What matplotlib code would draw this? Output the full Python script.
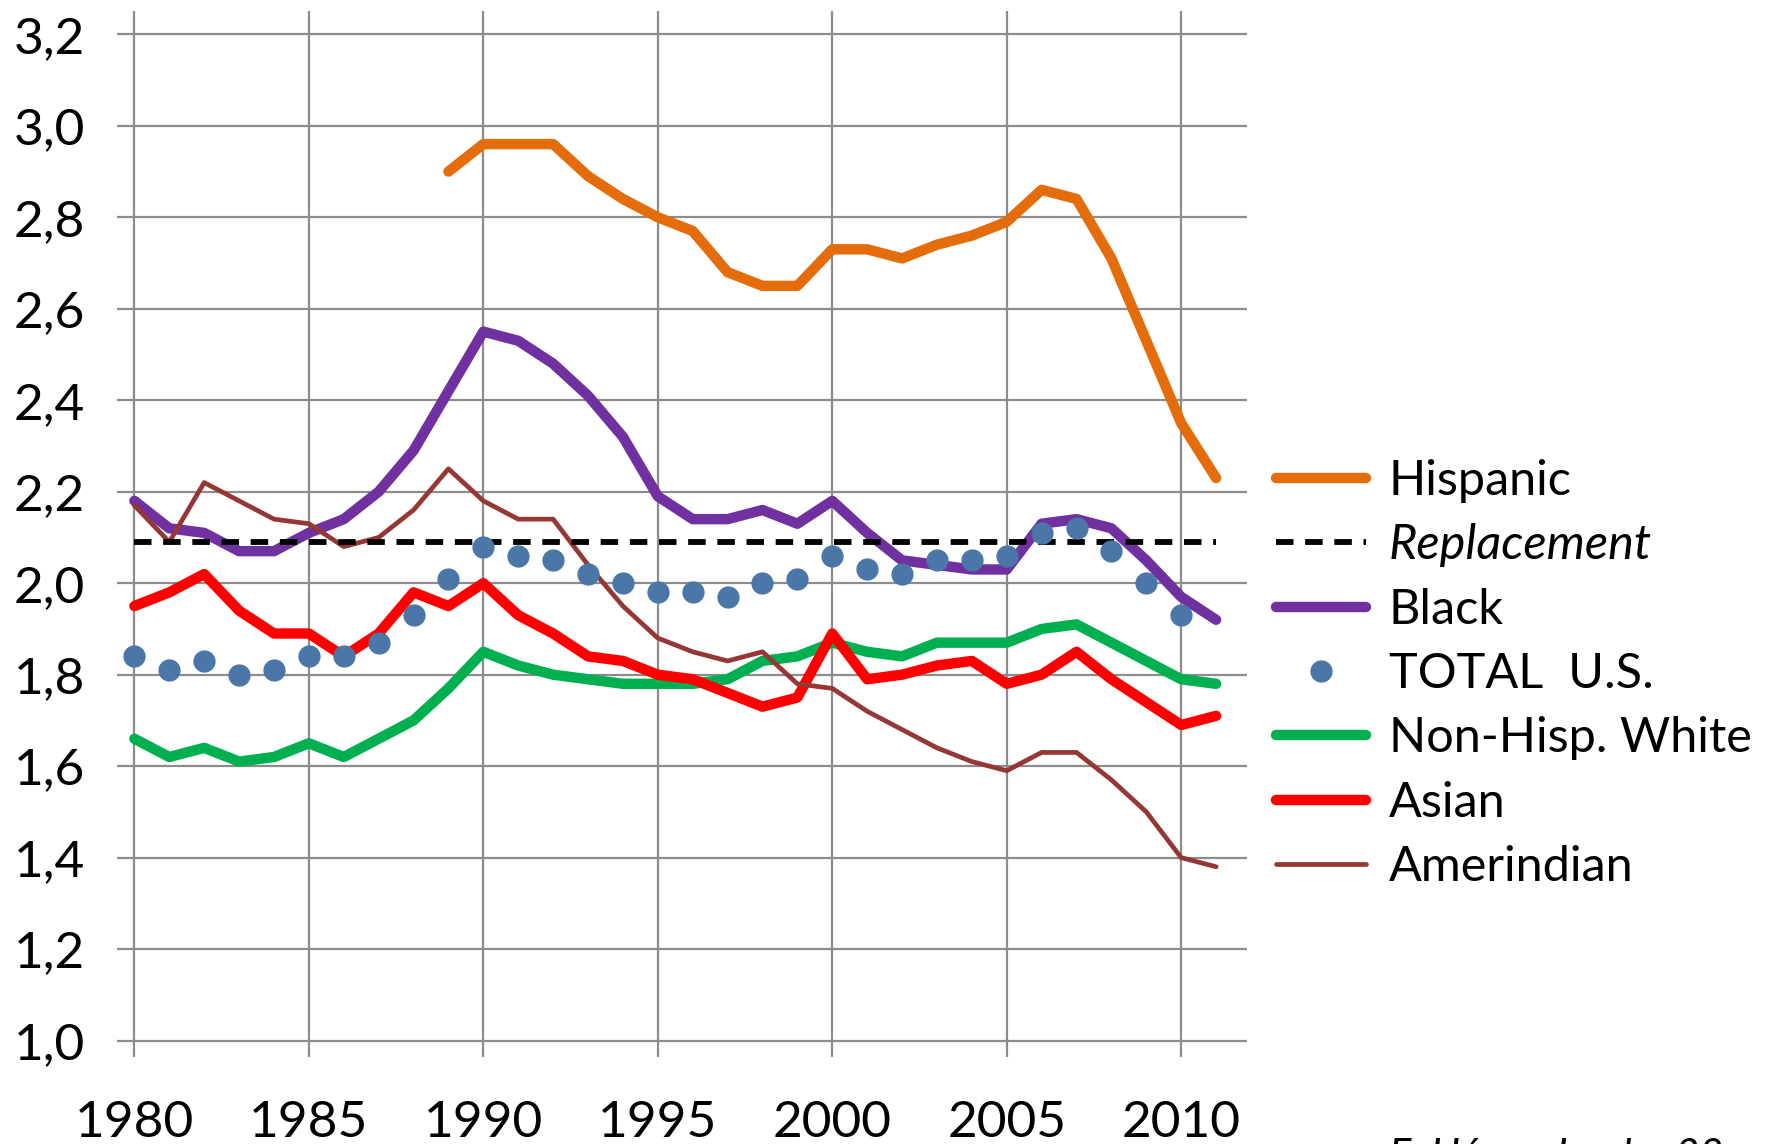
import numpy as np
import matplotlib
matplotlib.use("Agg")
import matplotlib.pyplot as plt

plt.rcParams['font.family'] = ['Lato', 'DejaVu Sans']

years = np.arange(1980, 2012)
hisp_years = np.arange(1989, 2012)
total_years = np.arange(1980, 2011)

hispanic = [2.90, 2.96, 2.96, 2.96, 2.89, 2.84, 2.80, 2.77, 2.68, 2.65, 2.65, 2.73,
            2.73, 2.71, 2.74, 2.76, 2.79, 2.86, 2.84, 2.71, 2.53, 2.35, 2.23]
black = [2.18, 2.12, 2.11, 2.07, 2.07, 2.11, 2.14, 2.20, 2.29, 2.42, 2.55, 2.53,
         2.48, 2.41, 2.32, 2.19, 2.14, 2.14, 2.16, 2.13, 2.18, 2.11, 2.05, 2.04,
         2.03, 2.03, 2.13, 2.14, 2.12, 2.05, 1.97, 1.92]
total_us = [1.84, 1.81, 1.83, 1.80, 1.81, 1.84, 1.84, 1.87, 1.93, 2.01, 2.08, 2.06,
            2.05, 2.02, 2.00, 1.98, 1.98, 1.97, 2.00, 2.01, 2.06, 2.03, 2.02, 2.05,
            2.05, 2.06, 2.11, 2.12, 2.07, 2.00, 1.93]
white = [1.66, 1.62, 1.64, 1.61, 1.62, 1.65, 1.62, 1.66, 1.70, 1.77, 1.85, 1.82,
         1.80, 1.79, 1.78, 1.78, 1.78, 1.79, 1.83, 1.84, 1.87, 1.85, 1.84, 1.87,
         1.87, 1.87, 1.90, 1.91, 1.87, 1.83, 1.79, 1.78]
asian = [1.95, 1.98, 2.02, 1.94, 1.89, 1.89, 1.84, 1.89, 1.98, 1.95, 2.00, 1.93,
         1.89, 1.84, 1.83, 1.80, 1.79, 1.76, 1.73, 1.75, 1.89, 1.79, 1.80, 1.82,
         1.83, 1.78, 1.80, 1.85, 1.79, 1.74, 1.69, 1.71]
amerindian = [2.17, 2.09, 2.22, 2.18, 2.14, 2.13, 2.08, 2.10, 2.16, 2.25, 2.18, 2.14,
              2.14, 2.04, 1.95, 1.88, 1.85, 1.83, 1.85, 1.78, 1.77, 1.72, 1.68, 1.64,
              1.61, 1.59, 1.63, 1.63, 1.57, 1.50, 1.40, 1.38]
replacement = 2.09

fig = plt.figure(figsize=(17.72, 11.44), dpi=100)
ax = fig.add_axes([0.066, 0.076, 0.638, 0.914])

grid_col = '#8c8c8c'
for yv in np.arange(1.0, 3.21, 0.2):
    ax.axhline(yv, color=grid_col, lw=1.6, zorder=0)
for xv in range(1980, 2011, 5):
    ax.axvline(xv, color=grid_col, lw=1.6, zorder=0)

thick = 7.5
ax.plot(hisp_years, hispanic, color='#E46C0A', lw=thick, solid_capstyle='round', label='Hispanic', zorder=3)
ax.plot([1980, 2011], [replacement, replacement], color='black', lw=4.2, ls=(0, (3, 2)), label='Replacement', zorder=4)
ax.plot(years, black, color='#7030A0', lw=thick, solid_capstyle='round', label='Black', zorder=3)
ax.plot(total_years, total_us, ls='none', marker='o', ms=15, color='#4A76A8', label='TOTAL  U.S.', zorder=5)
ax.plot(years, white, color='#00B050', lw=thick, solid_capstyle='round', label='Non-Hisp. White', zorder=3)
ax.plot(years, asian, color='#FF0000', lw=thick, solid_capstyle='round', label='Asian', zorder=3)
ax.plot(years, amerindian, color='#953735', lw=3.4, solid_capstyle='round', label='Amerindian', zorder=3)

ax.set_xlim(1979.5, 2011.9)
ax.set_ylim(0.964, 3.25)
ax.set_xticks(range(1980, 2011, 5))
ax.set_yticks(np.arange(1.0, 3.21, 0.2))
ax.set_yticklabels([f"{v:.1f}".replace('.', ',') for v in np.arange(1.0, 3.21, 0.2)])
ax.tick_params(axis='both', length=0, labelsize=37)
ax.tick_params(axis='y', pad=23)
ax.tick_params(axis='x', pad=31)
for s in ax.spines.values():
    s.set_visible(False)

leg = ax.legend(loc='upper left', bbox_to_anchor=(0.709, 0.616), bbox_transform=fig.transFigure,
                frameon=False, fontsize=35, handlelength=1.85, handletextpad=0.47,
                labelspacing=0.42, borderaxespad=0)
for t in leg.get_texts():
    if t.get_text() == 'Replacement':
        t.set_fontstyle('italic')

fig.text(0.784, 0.006, "F. Héran, Ined – 28", fontsize=30, fontstyle='italic', va='top', ha='left')

fig.savefig('out.png', dpi=100)
